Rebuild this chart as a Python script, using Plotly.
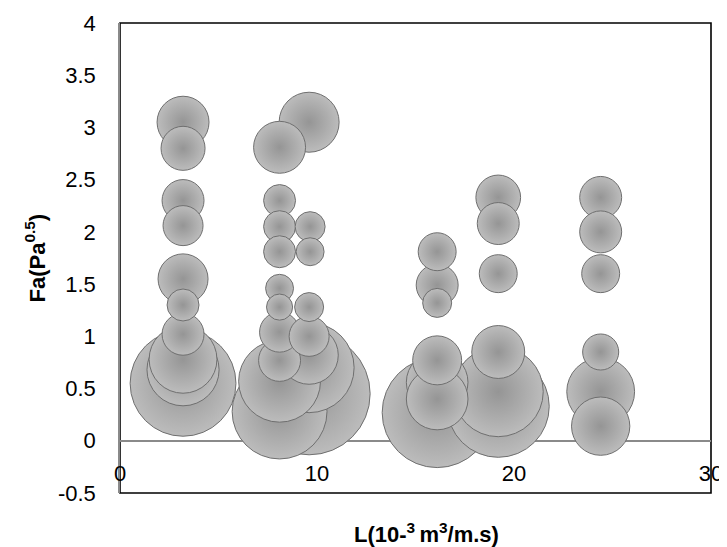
import plotly.graph_objects as go

# ---- data ----
L_values = [3.2, 3.2, 3.2, 3.2, 3.2, 3.2, 3.2, 3.2, 3.2, 3.2,
            8.1, 8.1, 8.1, 8.1, 8.1, 8.1, 8.1, 8.1, 8.1, 8.1,
            9.6, 9.65, 9.65, 9.6, 9.6, 9.6, 9.6, 9.6,
            16.1, 16.1, 16.1, 16.1, 16.1, 16.1, 16.1,
            19.2, 19.2, 19.2, 19.2, 19.2, 19.2,
            24.4, 24.4, 24.4, 24.4, 24.4, 24.4]
Fa_values = [3.05, 2.8, 2.3, 2.06, 1.55, 1.3, 1.02, 0.78, 0.68, 0.55,
             2.81, 2.3, 2.05, 1.81, 1.46, 1.28, 1.04, 0.77, 0.57, 0.28,
             3.05, 2.05, 1.81, 1.28, 1.0, 0.82, 0.7, 0.45,
             1.81, 1.49, 1.32, 0.77, 0.56, 0.4, 0.27,
             2.33, 2.08, 1.6, 0.85, 0.47, 0.33,
             2.33, 2.0, 1.6, 0.85, 0.47, 0.14]
bubble_values = [27, 19.4, 17.6, 16, 25, 10.2, 17.6, 46, 52, 112,
                 27, 10.2, 10.2, 10.2, 7.8, 6.8, 16, 17.6, 67, 90,
                 36, 9, 7.8, 8.4, 16, 34, 81, 149,
                 14.4, 17.6, 8.4, 24, 38, 38, 121,
                 20, 17.6, 14.4, 28, 81, 104,
                 17.6, 17.6, 14.4, 13, 46, 34]

y_tickvals = [-0.5, 0, 0.5, 1, 1.5, 2, 2.5, 3, 3.5, 4]
y_ticktext = ["-0.5", "0", "0.5", "1", "1.5", "2", "2.5", "3", "3.5", "4"]
x_tickvals = [0, 10, 20, 30]
x_ticktext = ["0", "10", "20", "30"]

# draw larger bubbles first so smaller ones sit on top
order = sorted(range(len(bubble_values)), key=lambda i: -bubble_values[i])
xs = [L_values[i] for i in order]
ys = [Fa_values[i] for i in order]
ss = [bubble_values[i] for i in order]

FONT = "Liberation Sans, Arial, sans-serif"

fig = go.Figure()
fig.add_trace(go.Scatter(
    x=xs, y=ys, mode="markers",
    marker=dict(
        size=ss, sizemode="area", sizeref=0.02,
        color="#bcbcbc",
        gradient=dict(type="radial", color="#959595"),
        line=dict(color="#6f6f6f", width=1),
        opacity=1,
    ),
    hoverinfo="skip", showlegend=False,
))

fig.update_layout(
    width=719, height=539,
    margin=dict(l=112, r=16, t=15, b=54, pad=0),
    paper_bgcolor="white", plot_bgcolor="white",
    font=dict(family=FONT, size=22, color="black"),
    xaxis=dict(
        range=[0, 30], tickvals=x_tickvals, ticktext=x_ticktext,
        showgrid=False, zeroline=False, showline=False, ticks="",
        anchor="free", position=0.5 / 4.5, automargin=False,
        ticklabelstandoff=17,
        tickfont=dict(family=FONT, size=22, color="black"),
    ),
    yaxis=dict(
        range=[-0.5, 4], tickvals=y_tickvals, ticktext=y_ticktext,
        showgrid=False, zeroline=True, zerolinecolor="#8a8a8a", zerolinewidth=1.5,
        showline=True, linecolor="#8a8a8a", linewidth=1.5, ticks="",
        automargin=False, ticklabelstandoff=18,
        tickfont=dict(family=FONT, size=22, color="black"),
    ),
    shapes=[dict(type="rect", xref="paper", yref="paper", x0=0, y0=0, x1=1, y1=1,
                 line=dict(color="black", width=1.6), layer="below")],
    annotations=[
        dict(text="<b>L(10-<sup>3 </sup>m<sup>3</sup>/m.s)</b>", xref="paper", yref="paper",
             x=0.518, y=-0.085, xanchor="center", yanchor="middle", showarrow=False,
             font=dict(family=FONT, size=22, color="black")),
        dict(text="<b>Fa(Pa<sup>0.5</sup>)</b>", xref="paper", yref="paper",
             x=-0.143, y=0.5, xanchor="center", yanchor="middle", showarrow=False,
             textangle=-90, font=dict(family=FONT, size=22, color="black")),
    ],
)

fig.write_html("out.html")
